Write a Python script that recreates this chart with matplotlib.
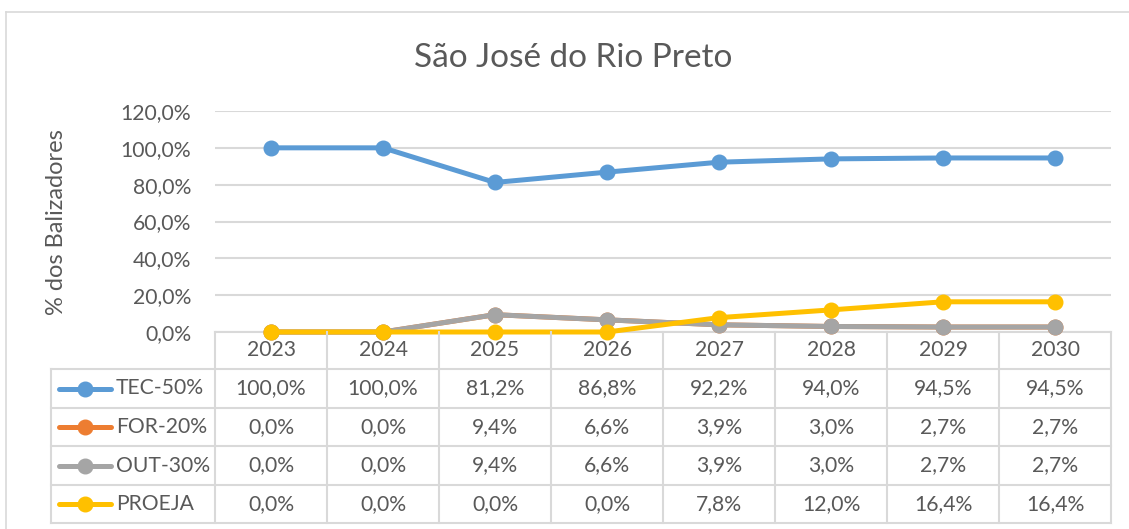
import matplotlib.pyplot as plt
import matplotlib.transforms as mtransforms
from matplotlib.lines import Line2D
from matplotlib.ticker import FuncFormatter

# Data
years = ['2023', '2024', '2025', '2026', '2027', '2028', '2029', '2030']
tec = [100.0, 100.0, 81.2, 86.8, 92.2, 94.0, 94.5, 94.5]
form = [0.0, 0.0, 9.4, 6.6, 3.9, 3.0, 2.7, 2.7]
out = [0.0, 0.0, 9.4, 6.6, 3.9, 3.0, 2.7, 2.7]
proeja = [0.0, 0.0, 0.0, 0.0, 7.8, 12.0, 16.4, 16.4]

series_names = ['TEC-50%', 'FOR-20%', 'OUT-30%', 'PROEJA']
series_vals = [tec, form, out, proeja]
colors = ['#5b9bd5', '#ed7d31', '#a5a5a5', '#ffc000']

plt.rcParams['font.family'] = ['Lato', 'DejaVu Sans']
txt = '#595959'
grid = '#d9d9d9'
fs = 15.2

W, H = 1129, 529
fig = plt.figure(figsize=(W / 100, H / 100), dpi=100)


def fx(px):
    return px / W


def fy(py):
    return 1 - py / H


# outer chart frame (clipped at right/bottom)
fig.add_artist(Line2D([fx(6), 1.0], [fy(12), fy(12)], color=grid, lw=1.2))
fig.add_artist(Line2D([fx(6), fx(6)], [fy(12), 0.0], color=grid, lw=1.2))

ax = fig.add_axes([fx(215), fy(332), fx(1111) - fx(215), fy(111) - fy(332)])
x = list(range(len(years)))
for vals, c in zip(series_vals, colors):
    ax.plot(x, [v / 100 for v in vals], color=c, lw=3.6, marker='o',
            markersize=10.5, solid_capstyle='round', clip_on=False, zorder=3)

ax.set_xlim(-0.5, len(years) - 0.5)
ax.set_ylim(0, 1.2)
ax.set_yticks([0, 0.2, 0.4, 0.6, 0.8, 1.0, 1.2])
ax.yaxis.set_major_formatter(FuncFormatter(lambda v, p: f'{v * 100:.1f}%'.replace('.', ',')))
ax.tick_params(axis='y', length=0, pad=17, labelsize=fs, labelcolor=txt)
ax.set_xticks([])
ax.grid(axis='y', color=grid, lw=1.5)
ax.set_axisbelow(True)
for s in ['top', 'right', 'left']:
    ax.spines[s].set_visible(False)
ax.spines['bottom'].set_color(grid)
ax.spines['bottom'].set_linewidth(1.5)

fig.text(fx(573), fy(58), 'São José do Rio Preto', ha='center', va='center',
         fontsize=24, color=txt)
fig.text(fx(57), fy(222), '% dos Balizadores', ha='center', va='center',
         rotation=90, fontsize=17, color=txt)

# data table below the plot
tr = mtransforms.blended_transform_factory(ax.transData, fig.transFigure)
row_edges = [332, 369, 408, 446, 485, 523]
lc = grid
for i, ry in enumerate(row_edges[1:]):
    fig.add_artist(Line2D([fx(51), fx(1111)], [fy(ry), fy(ry)], color=lc, lw=1.5))
for k in range(len(years) + 1):
    fig.add_artist(Line2D([k - 0.5, k - 0.5], [fy(332), fy(523)], color=lc, lw=1.5,
                          transform=tr))
fig.add_artist(Line2D([fx(51), fx(51)], [fy(369), fy(523)], color=lc, lw=1.5))

for k, yr in enumerate(years):
    fig.text(k, fy((row_edges[0] + row_edges[1]) / 2), yr, transform=tr,
             ha='center', va='center', fontsize=fs, color=txt)

for r, (name, vals, c) in enumerate(zip(series_names, series_vals, colors)):
    cy = fy((row_edges[r + 1] + row_edges[r + 2]) / 2)
    fig.add_artist(Line2D([fx(59), fx(111)], [cy, cy], color=c, lw=3.6,
                          solid_capstyle='round'))
    fig.add_artist(Line2D([fx(85)], [cy], color=c, marker='o', markersize=10.5))
    fig.text(fx(116), cy, name, ha='left', va='center', fontsize=fs, color=txt)
    for k, v in enumerate(vals):
        fig.text(k, cy, f'{v:.1f}%'.replace('.', ','), transform=tr,
                 ha='center', va='center', fontsize=fs, color=txt)

fig.savefig('out.png', dpi=100)
